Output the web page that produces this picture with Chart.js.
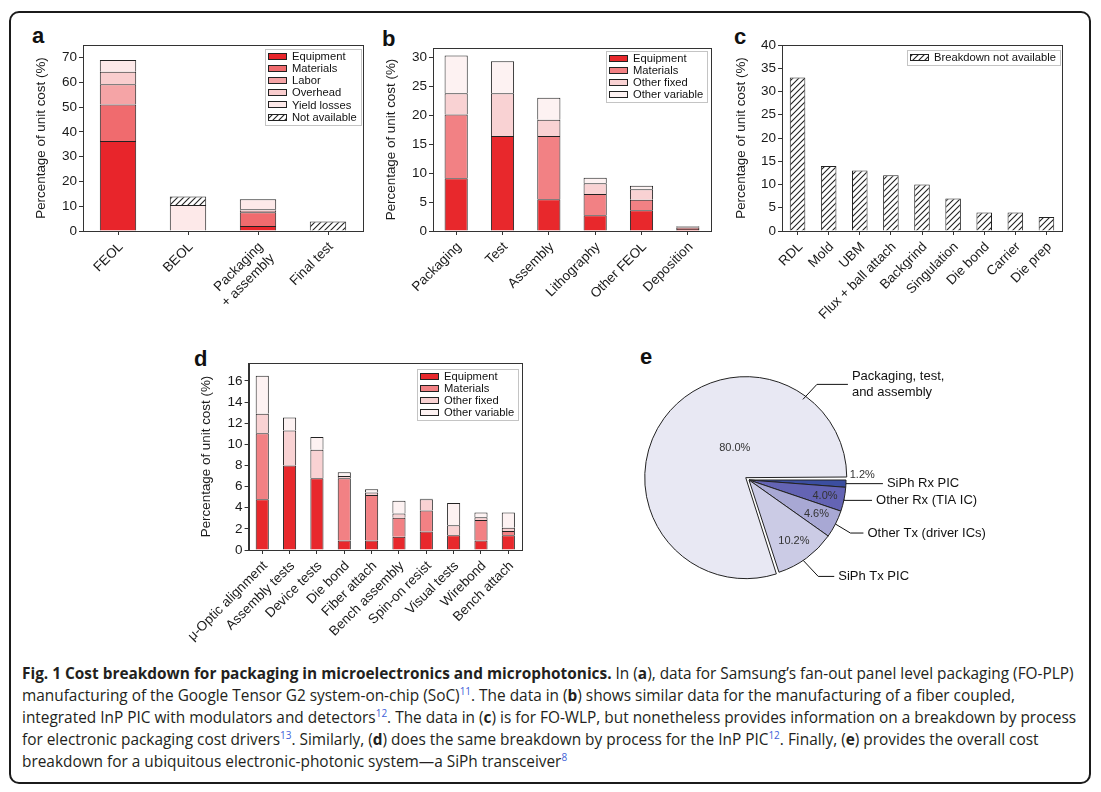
<!DOCTYPE html>
<html>
<head>
<meta charset="utf-8">
<title>Cost breakdown</title>
<script src="https://cdn.jsdelivr.net/npm/chart.js@4.4.1/dist/chart.umd.min.js"></script>
<style>
  html, body { margin: 0; padding: 0; background: #fff; }
  body { width: 1101px; height: 792px; position: relative; overflow: hidden; font-family: "Liberation Sans", Arial, sans-serif; }
  .frame { position: absolute; left: 9px; top: 11px; width: 1082px; height: 773px; border: 2px solid #1b1b1b; border-radius: 10px; box-sizing: border-box; }
  canvas { position: absolute; }
  .tag { position: absolute; font: bold 22px "Liberation Sans", Arial, sans-serif; line-height: 22px; color: #111; }
  .caption { position: absolute; left: 22px; top: 663px; font-family: "Open Sans", Lato, sans-serif; font-size: 15.4px; line-height: 22px; color: #231f20; white-space: nowrap; }
  .caption b { font-weight: 700; }
  .caption sup { color: #3f5fd8; font-size: 10px; line-height: 0; vertical-align: 6px; }
</style>
</head>
<body>
<div class="frame"></div>

<div class="tag" style="left:32px; top:25px;">a</div>
<div class="tag" style="left:382px; top:28px;">b</div>
<div class="tag" style="left:734px; top:26px;">c</div>
<div class="tag" style="left:194px; top:348px;">d</div>
<div class="tag" style="left:640px; top:346px;">e</div>

<canvas id="chartA" width="350" height="305" style="left:20px; top:25px;"></canvas>
<canvas id="chartB" width="345" height="305" style="left:370px; top:25px;"></canvas>
<canvas id="chartC" width="368" height="305" style="left:720px; top:25px;"></canvas>
<canvas id="chartD" width="350" height="310" style="left:180px; top:345px;"></canvas>
<canvas id="chartE" width="490" height="280" style="left:600px; top:345px;"></canvas>

<div class="caption">
  <div><b>Fig. 1 Cost breakdown for packaging in microelectronics and microphotonics.</b> In (<b>a</b>), data for Samsung’s fan-out panel level packaging (FO-PLP)</div>
  <div>manufacturing of the Google Tensor G2 system-on-chip (SoC)<sup>11</sup>. The data in (<b>b</b>) shows similar data for the manufacturing of a fiber coupled,</div>
  <div>integrated InP PIC with modulators and detectors<sup>12</sup>. The data in (<b>c</b>) is for FO-WLP, but nonetheless provides information on a breakdown by process</div>
  <div>for electronic packaging cost drivers<sup>13</sup>. Similarly, (<b>d</b>) does the same breakdown by process for the InP PIC<sup>12</sup>. Finally, (<b>e</b>) provides the overall cost</div>
  <div>breakdown for a ubiquitous electronic-photonic system—a SiPh transceiver<sup>8</sup></div>
</div>

<script>
// ========================================
// DATA
// ========================================

// (a) FO-PLP, Google Tensor G2
const aCategories = ['FEOL', 'BEOL', ['Packaging', '+ assembly'], 'Final test'];
const aEquipment = [36.3, 0, 2.0, 0];
const aMaterials = [14.7, 0, 5.6, 0];
const aLabor = [8.2, 0, 0.6, 0];
const aOverhead = [5.0, 0, 0.6, 0];
const aYieldLosses = [4.8, 10.5, 4.0, 0];
const aNotAvailable = [0, 3.4, 0, 3.8];

// (b) InP PIC
const bCategories = ['Packaging', 'Test', 'Assembly', 'Lithography', 'Other FEOL', 'Deposition'];
const bEquipment = [9.1, 16.4, 5.5, 2.7, 3.6, 0.35];
const bMaterials = [11.0, 0, 10.9, 3.7, 1.8, 0.2];
const bOtherFixed = [3.7, 7.4, 2.8, 1.85, 1.8, 0.15];
const bOtherVariable = [6.5, 5.5, 3.8, 0.95, 0.6, 0.1];

// (c) FO-WLP
const cCategories = ['RDL', 'Mold', 'UBM', 'Flux + ball attach', 'Backgrind', 'Singulation', 'Die bond', 'Carrier', 'Die prep'];
const cValues = [33, 14, 13, 12, 10, 7, 4, 4, 3];

// (d) InP PIC by process
const dCategories = ['μ-Optic alignment', 'Assembly tests', 'Device tests', 'Die bond', 'Fiber attach', 'Bench assembly', 'Spin-on resist', 'Visual tests', 'Wirebond', 'Bench attach'];
const dEquipment = [4.8, 8.0, 6.8, 0.9, 0.9, 1.25, 1.75, 1.4, 0.9, 1.4];
const dMaterials = [6.25, 0, 0, 5.9, 4.3, 1.8, 2.0, 0, 1.95, 0.4];
const dOtherFixed = [1.85, 3.3, 2.7, 0.2, 0.25, 0.4, 1.05, 0.95, 0.25, 0.3];
const dOtherVariable = [3.6, 1.25, 1.2, 0.35, 0.3, 1.2, 0.05, 2.1, 0.45, 1.45];

// (e) SiPh transceiver
const eLabels = ['SiPh Rx PIC', 'Other Rx (TIA IC)', 'Other Tx (driver ICs)', 'SiPh Tx PIC', ['Packaging, test,', 'and assembly']];
const eValues = [1.2, 4.0, 4.6, 10.2, 80.0];

// ========================================
// STYLE
// ========================================

const FONT = '"Liberation Sans", Arial, sans-serif';
Chart.defaults.font.family = FONT;
Chart.defaults.color = '#1a1a1a';

const aColors = ['#e8252b', '#f06b6e', '#f5a4a6', '#f9cdce', '#fde9e9'];
const bColors = ['#e8282c', '#f28184', '#f9d2d3', '#fdf2f2'];
const eColors = ['#3b4ea0', '#6464b4', '#a8a8d4', '#cbcbe5', '#e8e8f3'];

function makeHatch() {
    const c = document.createElement('canvas');
    c.width = 6; c.height = 6;
    const g = c.getContext('2d');
    g.fillStyle = '#fff';
    g.fillRect(0, 0, 6, 6);
    g.strokeStyle = '#222';
    g.lineWidth = 1.1;
    g.beginPath();
    g.moveTo(0, 6); g.lineTo(6, 0);
    g.moveTo(-1, 1); g.lineTo(1, -1);
    g.moveTo(5, 7); g.lineTo(7, 5);
    g.stroke();
    return g.createPattern(c, 'repeat');
}
const HATCH = makeHatch();

// ========================================
// PLUGINS
// ========================================

// box around the plot area
const plotFrame = {
    id: 'plotFrame',
    afterDatasetsDraw(chart) {
        const { ctx, chartArea: a } = chart;
        ctx.save();
        ctx.strokeStyle = '#333';
        ctx.lineWidth = 1;
        ctx.strokeRect(Math.round(a.left) + 0.5, Math.round(a.top) + 0.5, Math.round(a.right - a.left), Math.round(a.bottom - a.top));
        ctx.restore();
    }
};

// legend drawn inside the plot, top right
const boxLegend = {
    id: 'boxLegend',
    afterDraw(chart, args, opts) {
        const { ctx, chartArea: area } = chart;
        const items = chart.data.datasets;
        const sw = 19, sh = 7, gap = 5, padX = 3, padY = 1.5, rowH = 12.1;
        ctx.save();
        ctx.font = '11.2px ' + FONT;
        const tw = Math.max(...items.map(d => ctx.measureText(d.label).width));
        const w = Math.round(padX + sw + gap + tw + padX + 1);
        const h = Math.round(items.length * rowH + 2 * padY);
        const x = Math.round(area.right - opts.right - w);
        const y = Math.round(area.top + opts.top);
        ctx.strokeStyle = '#c4c4c4';
        ctx.lineWidth = 1;
        ctx.strokeRect(x + 0.5, y + 0.5, w, h);
        items.forEach((d, i) => {
            const cy = y + padY + rowH / 2 + i * rowH;
            const sx = x + padX, sy = Math.round(cy - sh / 2);
            ctx.fillStyle = d.backgroundColor;
            ctx.fillRect(sx, sy, sw, sh);
            ctx.strokeStyle = '#222';
            ctx.strokeRect(sx + 0.5, sy + 0.5, sw - 1, sh - 1);
            ctx.fillStyle = '#111';
            ctx.textBaseline = 'middle';
            ctx.textAlign = 'left';
            ctx.fillText(d.label, sx + sw + gap, cy + 0.5);
        });
        ctx.restore();
    }
};

// percentages, leader lines and names around the pie
const pieNotes = {
    id: 'pieNotes',
    afterDraw(chart, args, opts) {
        const ctx = chart.ctx;
        const meta = chart.getDatasetMeta(0);
        const values = chart.data.datasets[0].data;
        ctx.save();
        meta.data.forEach((arc, i) => {
            const p = arc.getProps(['x', 'y', 'startAngle', 'endAngle', 'outerRadius'], true);
            const mid = (p.startAngle + p.endAngle) / 2;
            const circ = p.endAngle - p.startAngle;
            const off = (arc.options.offset || 0) / 4;
            const shift = off + off * (1 - Math.sin(Math.min(Math.PI, circ)));
            const cx = p.x + Math.cos(mid) * shift;
            const cy = p.y + Math.sin(mid) * shift;
            const R = p.outerRadius;

            const ps = opts.pct[i];
            const pa = ps.a == null ? mid : ps.a * Math.PI / 180;
            ctx.font = '11px ' + FONT;
            ctx.fillStyle = '#333';
            ctx.textAlign = ps.align || 'center';
            ctx.textBaseline = 'middle';
            ctx.fillText(values[i].toFixed(1) + '%', cx + Math.cos(pa) * ps.r * R, cy + Math.sin(pa) * ps.r * R);

            const ls = opts.leader[i];
            const la = ls.a == null ? mid : ls.a * Math.PI / 180;
            const sx = cx + Math.cos(la) * R, sy = cy + Math.sin(la) * R;
            const ex = sx + ls.elbow[0], ey = sy + ls.elbow[1];
            const tx = ex + ls.run;
            ctx.beginPath();
            ctx.moveTo(sx, sy);
            ctx.lineTo(ex, ey);
            ctx.lineTo(tx, ey);
            ctx.strokeStyle = '#111';
            ctx.lineWidth = 1;
            ctx.stroke();

            const lines = [].concat(chart.data.labels[i]);
            ctx.font = '13px ' + FONT;
            ctx.fillStyle = '#111';
            ctx.textAlign = 'left';
            lines.forEach((t, k) => ctx.fillText(t, tx + 4, ey + (k - (lines.length - 1) / 2) * 16.6));
        });
        ctx.restore();
    }
};

// ========================================
// BAR CHARTS
// ========================================

function barChart(id, cfg) {
    const canvas = document.getElementById(id);
    return new Chart(canvas, {
        type: 'bar',
        data: {
            labels: cfg.labels,
            datasets: cfg.series.map(s => ({
                label: s.label,
                data: s.data,
                backgroundColor: s.color,
                borderColor: '#222',
                borderWidth: 1,
                borderSkipped: 'start',
                barPercentage: cfg.barPct,
                categoryPercentage: 1
            }))
        },
        options: {
            responsive: false,
            animation: false,
            layout: { padding: cfg.pad },
            plugins: {
                legend: { display: false },
                tooltip: { enabled: false },
                boxLegend: cfg.legend
            },
            scales: {
                x: {
                    stacked: true,
                    grid: { offset: false, drawOnChartArea: false, drawTicks: true, tickLength: 4, color: '#333' },
                    border: { display: true, color: '#333' },
                    ticks: { autoSkip: false, minRotation: 45, maxRotation: 45, padding: 4, labelOffset: 3, color: '#1a1a1a', font: { size: 13.5 } },
                    afterFit: s => { s.height = cfg.xh; }
                },
                y: {
                    stacked: true,
                    min: 0,
                    max: cfg.ymax,
                    grid: { drawOnChartArea: false, drawTicks: true, tickLength: 4, color: '#333' },
                    border: { display: true, color: '#333' },
                    ticks: { stepSize: cfg.step, includeBounds: false, padding: 2, color: '#1a1a1a', font: { size: 13.5 } },
                    title: { display: true, text: 'Percentage of unit cost (%)', color: '#1a1a1a', font: { size: 13.4 }, padding: { top: cfg.titlePad, bottom: 0 } },
                    afterFit: s => { s.width = cfg.yw; }
                }
            }
        },
        plugins: [plotFrame, boxLegend]
    });
}

barChart('chartA', {
    labels: aCategories,
    series: [
        { label: 'Equipment', data: aEquipment, color: aColors[0] },
        { label: 'Materials', data: aMaterials, color: aColors[1] },
        { label: 'Labor', data: aLabor, color: aColors[2] },
        { label: 'Overhead', data: aOverhead, color: aColors[3] },
        { label: 'Yield losses', data: aYieldLosses, color: aColors[4] },
        { label: 'Not available', data: aNotAvailable, color: HATCH }
    ],
    barPct: 0.52, ymax: 75, step: 10,
    pad: { top: 20, right: 7, left: 0, bottom: 0 },
    yw: 63, xh: 99, titlePad: 13.5,
    legend: { right: 2, top: 4 }
});

barChart('chartB', {
    labels: bCategories,
    series: [
        { label: 'Equipment', data: bEquipment, color: bColors[0] },
        { label: 'Materials', data: bMaterials, color: bColors[1] },
        { label: 'Other fixed', data: bOtherFixed, color: bColors[2] },
        { label: 'Other variable', data: bOtherVariable, color: bColors[3] }
    ],
    barPct: 0.5, ymax: 31.6, step: 5,
    pad: { top: 23, right: 4, left: 0, bottom: 0 },
    yw: 63, xh: 99, titlePad: 13.5,
    legend: { right: 4, top: 3 }
});

barChart('chartC', {
    labels: cCategories,
    series: [
        { label: 'Breakdown not available', data: cValues, color: HATCH }
    ],
    barPct: 0.5, ymax: 40, step: 5,
    pad: { top: 20, right: 26, left: 0, bottom: 0 },
    yw: 62, xh: 99, titlePad: 13.5,
    legend: { right: 2, top: 5 }
});

barChart('chartD', {
    labels: dCategories,
    series: [
        { label: 'Equipment', data: dEquipment, color: bColors[0] },
        { label: 'Materials', data: dMaterials, color: bColors[1] },
        { label: 'Other fixed', data: dOtherFixed, color: bColors[2] },
        { label: 'Other variable', data: dOtherVariable, color: bColors[3] }
    ],
    barPct: 0.48, ymax: 17.7, step: 2,
    pad: { top: 18, right: 8, left: 0, bottom: 0 },
    yw: 65, xh: 105, titlePad: 14.5,
    legend: { right: 4, top: 6 }
});

// ========================================
// PIE
// ========================================

new Chart(document.getElementById('chartE'), {
    type: 'pie',
    data: {
        labels: eLabels,
        datasets: [{
            data: eValues,
            backgroundColor: eColors,
            borderColor: '#222',
            borderWidth: 1,
            offset: [0, 0, 0, 0, 16]
        }]
    },
    options: {
        responsive: false,
        animation: false,
        rotation: 90,
        radius: 97,
        layout: { padding: { left: 0, right: 192, top: 0, bottom: 10 } },
        plugins: {
            legend: { display: false },
            tooltip: { enabled: false },
            pieNotes: {
                pct: [
                    { r: 1.04, a: -3, align: 'left' },
                    { r: 0.8 },
                    { r: 0.78 },
                    { r: 0.78 },
                    { r: 0.29, a: 254 }
                ],
                leader: [
                    { a: null, elbow: [0, 0], run: 37 },
                    { a: null, elbow: [0, 1], run: 28 },
                    { a: null, elbow: [15, 9], run: 13 },
                    { a: 56, elbow: [15, 16], run: 16 },
                    { a: -51.5, elbow: [14, -15], run: 31 }
                ]
            }
        }
    },
    plugins: [pieNotes]
});
</script>
</body>
</html>
